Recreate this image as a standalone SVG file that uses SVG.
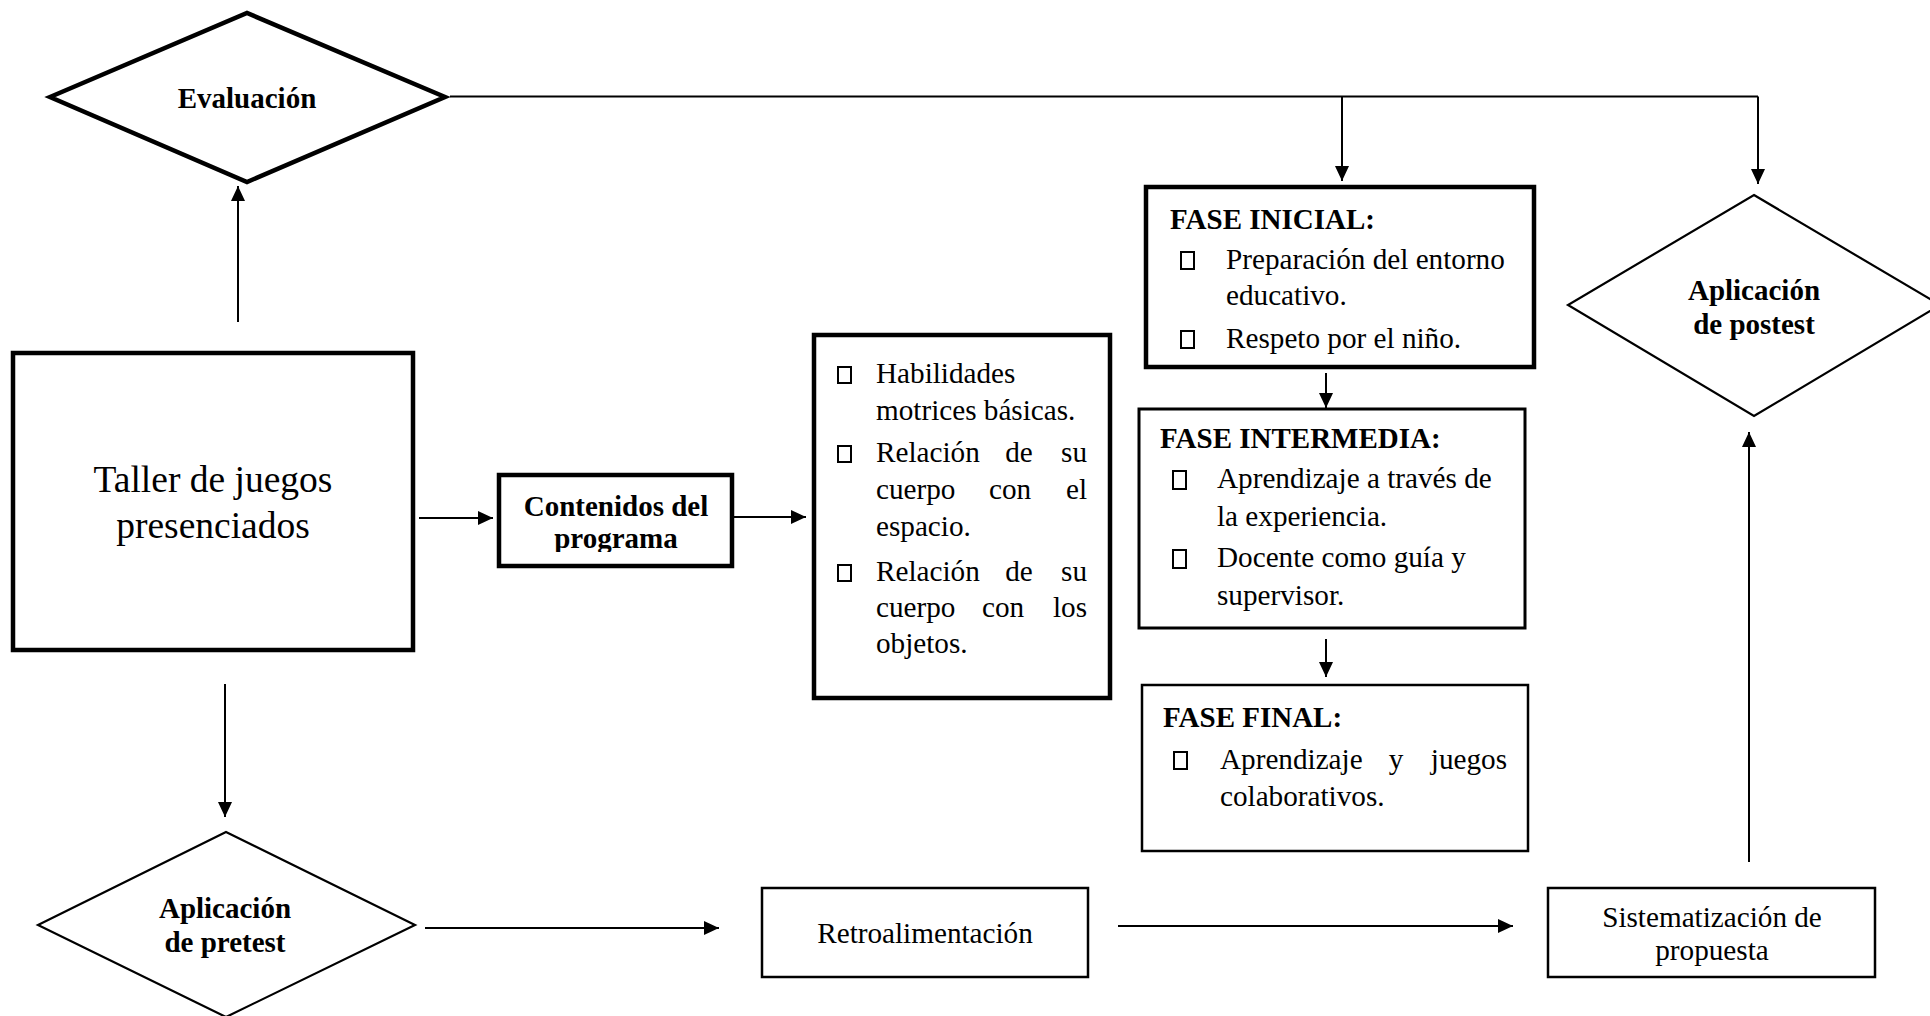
<svg xmlns="http://www.w3.org/2000/svg" width="1930" height="1016" viewBox="0 0 1930 1016">
<style>
  text { font-family: 'Liberation Serif', 'Times New Roman', serif; fill: #000; }
  .b { font-weight: bold; font-size: 29px; }
  .r { font-size: 29.2px; }
  .c { text-anchor: middle; }
  .e { text-anchor: end; }
  .box { fill: #fff; stroke: #000; stroke-linejoin: miter; }
  .bul { fill: none; stroke: #000; stroke-width: 2; }
  .ln { fill: none; stroke: #000; stroke-width: 2; }
</style>
<defs>
  <marker id="ah" markerUnits="userSpaceOnUse" markerWidth="16" markerHeight="14" refX="15" refY="7" orient="auto">
    <path d="M0,0 L15,7 L0,14 Z" fill="#000"/>
  </marker>
  <clipPath id="clipCont"><rect x="499" y="475" width="233" height="77"/></clipPath>
</defs>
<rect width="1930" height="1016" fill="#fff"/>

<g id="connectors">
  <path class="ln" d="M450,96.5 H1758"/>
  <path class="ln" d="M1342,96.5 V181" marker-end="url(#ah)"/>
  <path class="ln" d="M1758,96.5 V184" marker-end="url(#ah)"/>
  <path class="ln" d="M238,322 V186" marker-end="url(#ah)"/>
  <path class="ln" d="M225,684 V817" marker-end="url(#ah)"/>
  <path class="ln" d="M419,518 H493" marker-end="url(#ah)"/>
  <path class="ln" d="M732,517 H806" marker-end="url(#ah)"/>
  <path class="ln" d="M1326,373 V408" marker-end="url(#ah)"/>
  <path class="ln" d="M1326,639 V677" marker-end="url(#ah)"/>
  <path class="ln" d="M425,928 H719" stroke-width="2.5" marker-end="url(#ah)"/>
  <path class="ln" d="M1118,926 H1513" stroke-width="2.5" marker-end="url(#ah)"/>
  <path class="ln" d="M1749,862 V432" marker-end="url(#ah)"/>
</g>

<g id="evaluacion">
  <polygon class="box" stroke-width="4.5" points="50,97 247,13 445,97 247,182"/>
  <text class="b c" x="247" y="108">Evaluación</text>
</g>

<g id="taller">
  <rect class="box" stroke-width="4.5" x="13" y="353" width="400" height="297"/>
  <text class="c" style="font-size:37.5px" x="213" y="492">Taller de juegos</text>
  <text class="c" style="font-size:37.5px" x="213" y="538">presenciados</text>
</g>

<g id="contenidos">
  <rect class="box" stroke-width="4.5" x="499" y="475" width="233" height="91"/>
  <g clip-path="url(#clipCont)">
    <text class="b c" x="616" y="516">Contenidos del</text>
    <text class="b c" x="616" y="548">programa</text>
  </g>
</g>

<g id="lista">
  <rect class="box" stroke-width="4.5" x="814" y="335" width="296" height="363"/>
  <rect class="bul" x="838" y="367" width="13" height="16"/>
  <text class="r" x="876" y="383">Habilidades</text>
  <text class="r" x="876" y="420">motrices básicas.</text>
  <rect class="bul" x="838" y="446" width="13" height="16"/>
  <text class="r" x="876" y="462">Relación</text>
  <text class="r c" x="1019" y="462">de</text>
  <text class="r e" x="1087" y="462">su</text>
  <text class="r" x="876" y="499">cuerpo</text>
  <text class="r c" x="1010" y="499">con</text>
  <text class="r e" x="1087" y="499">el</text>
  <text class="r" x="876" y="536">espacio.</text>
  <rect class="bul" x="838" y="565" width="13" height="16"/>
  <text class="r" x="876" y="581">Relación</text>
  <text class="r c" x="1019" y="581">de</text>
  <text class="r e" x="1087" y="581">su</text>
  <text class="r" x="876" y="617">cuerpo</text>
  <text class="r c" x="1003" y="617">con</text>
  <text class="r e" x="1087" y="617">los</text>
  <text class="r" x="876" y="653">objetos.</text>
</g>

<g id="fase-inicial">
  <rect class="box" stroke-width="4.5" x="1146" y="187" width="388" height="180"/>
  <text class="b" x="1170" y="229">FASE INICIAL:</text>
  <rect class="bul" x="1181" y="252" width="13" height="17"/>
  <text class="r" x="1226" y="269">Preparación del entorno</text>
  <text class="r" x="1226" y="305">educativo.</text>
  <rect class="bul" x="1181" y="331" width="13" height="17"/>
  <text class="r" x="1226" y="348">Respeto por el niño.</text>
</g>

<g id="fase-intermedia">
  <rect class="box" stroke-width="3" x="1139" y="409" width="386" height="219"/>
  <text class="b" x="1160" y="448">FASE INTERMEDIA:</text>
  <rect class="bul" x="1173" y="471" width="13" height="18"/>
  <text class="r" x="1217" y="488">Aprendizaje a través de</text>
  <text class="r" x="1217" y="526">la experiencia.</text>
  <rect class="bul" x="1173" y="550" width="13" height="18"/>
  <text class="r" x="1217" y="567">Docente como guía y</text>
  <text class="r" x="1217" y="605">supervisor.</text>
</g>

<g id="fase-final">
  <rect class="box" stroke-width="2.5" x="1142" y="685" width="386" height="166"/>
  <text class="b" x="1163" y="727">FASE FINAL:</text>
  <rect class="bul" x="1174" y="752" width="13" height="17"/>
  <text class="r" x="1220" y="769">Aprendizaje</text>
  <text class="r c" x="1396" y="769">y</text>
  <text class="r e" x="1507" y="769">juegos</text>
  <text class="r" x="1220" y="806">colaborativos.</text>
</g>

<g id="postest">
  <polygon class="box" stroke-width="2.2" points="1754,195 1940,305 1754,416 1568,305"/>
  <text class="b c" x="1754" y="300">Aplicación</text>
  <text class="b c" x="1754" y="334">de postest</text>
</g>

<g id="pretest">
  <polygon class="box" stroke-width="2.2" points="226,832 415,925 226,1017 38,925"/>
  <text class="b c" x="225" y="918">Aplicación</text>
  <text class="b c" x="225" y="952">de pretest</text>
</g>

<g id="retroalimentacion">
  <rect class="box" stroke-width="2.5" x="762" y="888" width="326" height="89"/>
  <text class="r c" x="925" y="943">Retroalimentación</text>
</g>

<g id="sistematizacion">
  <rect class="box" stroke-width="2.5" x="1548" y="888" width="327" height="89"/>
  <text class="r c" x="1712" y="927">Sistematización de</text>
  <text class="r c" x="1712" y="960">propuesta</text>
</g>
</svg>
